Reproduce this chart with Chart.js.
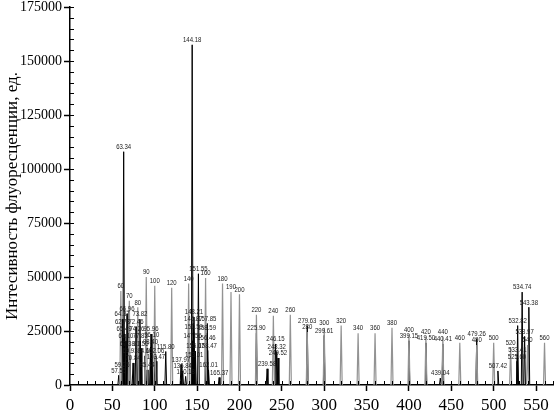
<!DOCTYPE html>
<html>
<head>
<meta charset="utf-8">
<script src="https://cdn.jsdelivr.net/npm/chart.js@4.4.0/dist/chart.umd.min.js"></script>
<style>
  html, body { margin: 0; padding: 0; background: #fff; }
</style>
</head>
<body>
<canvas id="chart" width="555" height="414"></canvas>
<script>
// axis ticks
const xTicks = [0, 50, 100, 150, 200, 250, 300, 350, 400, 450, 500, 550];
const yTicks = [0, 25000, 50000, 75000, 100000, 125000, 150000, 175000];
const xMinorStep = 10;
const yMinorStep = 5000;

// size standard peaks (grey), labelled with their size
const stdSizes = [60, 70, 80, 90, 100, 120, 140, 160, 180, 190, 200, 220, 240, 260, 280,
                  300, 320, 340, 360, 380, 400, 420, 440, 460, 480, 500, 520, 540, 560];
const stdHeights = [43500, 39000, 36000, 50000, 46000, 45000, 47000, 49500, 47000, 43000, 42000,
                    32500, 32000, 32500, 24500, 26500, 27500, 24000, 24000, 26500, 23500, 22500,
                    22500, 19500, 18500, 19500, 17500, 18500, 19500];

// sample peaks (black) with the size call written above them
const samplePos = [57.5, 61.4, 61.5, 61.9, 63.34, 63.8, 66.0, 67.3, 67.6, 70.8, 74.4, 77.9, 79.0,
                   82.5, 82.9, 83.8, 88.5, 91.0, 95.0, 95.6, 96.5, 100.4, 101.5, 113.0,
                   131.0, 133.0, 136.5, 144.18, 144.7, 145.5, 146.0, 146.3, 146.5, 148.0, 151.55,
                   161.0, 161.5, 162.0, 162.5, 163.5, 176.0,
                   220, 232.6, 242.5, 244.0, 245.5, 280, 300, 400, 420, 437, 440, 480, 505,
                   527.5, 527.9, 528.3, 533.6, 536.5, 541.5];
const sampleHeights = [4500, 7000, 30500, 26800, 108000, 23600, 20400, 33000, 17000, 13500, 10200, 27000, 23600,
                       30500, 20400, 17000, 13500, 7000, 17600, 23600, 21000, 13400, 11000, 15500,
                       9500, 6500, 4000, 157500, 20500, 28500, 24500, 31500, 11500, 15700, 51500,
                       19500, 24000, 28500, 16000, 7000, 3500,
                       24000, 7500, 19000, 15500, 12500, 27500, 23000, 20500, 19500, 3200, 19000, 21500, 6500,
                       11000, 14000, 27500, 43000, 22500, 36000];
const sampleLabels = ['57.55', '59.25', '64.37', '62.78', '63.34', '65.49', '66.10', '66.96', '67.38', '69.93', '70.84', '72.46', '74.26',
                      '73.82', '77.83', '81.50', '84.65', '85.44', '98.40', '95.96', '96.10', '102.06', '103.47', '115.80',
                      '137.97', '136.84', '140.18', '144.18', '147.56', '145.87', '150.59', '148.21', '153.01', '155.07', '151.55',
                      '156.46', '158.59', '157.85', '158.47', '162.01', '165.37',
                      '225.90', '239.58', '246.15', '248.32', '249.52', '279.63', '299.61', '399.15', '419.50', '439.04', '440.41', '479.26', '507.42',
                      '525.60', '533.41', '532.82', '534.74', '538.97', '543.38'];

function peakTrace(pos, heights, halfWidth) {
    const pts = [];
    pos.forEach((p, i) => {
        pts.push({x: p - halfWidth, y: 0});
        pts.push({x: p, y: heights[i]});
        pts.push({x: p + halfWidth, y: 0});
        pts.push({x: p + halfWidth, y: null});
    });
    return pts;
}

// narrow little labels, like the analyser prints them
function drawLabel(ctx, text, px, py) {
    ctx.save();
    ctx.translate(px, py);
    ctx.scale(0.8, 1);
    ctx.fillText(text, 0, 0);
    ctx.restore();
}

const peakLabels = {
    id: 'peakLabels',
    afterDatasetsDraw(chart) {
        const {ctx, scales: {x, y}} = chart;
        ctx.save();
        ctx.font = '7.5px "Liberation Sans", Arial, sans-serif';
        ctx.textAlign = 'center';
        ctx.textBaseline = 'bottom';
        ctx.fillStyle = '#1a1a1a';
        stdSizes.forEach((s, i) => {
            drawLabel(ctx, String(s), x.getPixelForValue(s), y.getPixelForValue(stdHeights[i]) - 1);
        });
        samplePos.forEach((p, i) => {
            drawLabel(ctx, sampleLabels[i], x.getPixelForValue(p), y.getPixelForValue(sampleHeights[i]) - 1);
        });
        ctx.restore();
    }
};

// small inward ticks on both axes
const minorTicks = {
    id: 'minorTicks',
    afterDatasetsDraw(chart) {
        const {ctx, scales: {x, y}} = chart;
        ctx.save();
        ctx.strokeStyle = '#000';
        ctx.lineWidth = 1;
        ctx.beginPath();
        for (let v = xMinorStep; v <= x.max; v += xMinorStep) {
            const px = Math.round(x.getPixelForValue(v)) + 0.5;
            ctx.moveTo(px, y.bottom);
            ctx.lineTo(px, y.bottom - 4);
        }
        for (let v = yMinorStep; v <= y.max; v += yMinorStep) {
            const py = Math.round(y.getPixelForValue(v)) + 0.5;
            ctx.moveTo(x.left, py);
            ctx.lineTo(x.left + 4, py);
        }
        ctx.stroke();
        ctx.restore();
    }
};

new Chart(document.getElementById('chart').getContext('2d'), {
    type: 'line',
    data: {
        datasets: [{
            label: 'standard',
            data: peakTrace(stdSizes, stdHeights, 1.2),
            borderColor: '#939393',
            borderWidth: 1.2,
            order: 0
        }, {
            label: 'sample',
            data: peakTrace(samplePos, sampleHeights, 1.0),
            borderColor: '#000',
            borderWidth: 1,
            order: 1
        }]
    },
    options: {
        responsive: false,
        animation: false,
        spanGaps: false,
        elements: {
            point: { radius: 0 },
            line: { tension: 0, fill: false }
        },
        layout: { padding: { top: 7, right: 2, left: 0, bottom: 0 } },
        plugins: {
            legend: { display: false },
            tooltip: { enabled: false }
        },
        scales: {
            x: {
                type: 'linear',
                min: 0,
                max: 570,
                afterBuildTicks: s => { s.ticks = xTicks.map(v => ({value: v})); },
                afterFit: s => { s.height = 29; },
                grid: { drawOnChartArea: false, tickLength: 6, tickColor: '#000', tickWidth: 1.5 },
                border: { color: '#000', width: 1.5 },
                ticks: {
                    color: '#000',
                    font: { family: 'Liberation Serif', size: 17 },
                    padding: 4,
                    maxRotation: 0,
                    autoSkip: false,
                    callback: v => String(v)
                }
            },
            y: {
                min: 0,
                max: 175000,
                afterBuildTicks: s => { s.ticks = yTicks.map(v => ({value: v})); },
                afterFit: s => { s.width = 70; s.paddingTop = 0; },
                grid: { drawOnChartArea: false, tickLength: 6, tickColor: '#000', tickWidth: 1.5 },
                border: { color: '#000', width: 1.5 },
                ticks: {
                    color: '#000',
                    font: { family: 'Liberation Serif', size: 14 },
                    padding: 2,
                    callback: v => String(v)
                },
                title: {
                    display: true,
                    text: 'Интесивность флуоресценции, ед.',
                    color: '#000',
                    font: { family: 'Liberation Serif', size: 17 },
                    padding: { top: 2, bottom: 0 }
                }
            }
        }
    },
    plugins: [peakLabels, minorTicks]
});
</script>
</body>
</html>
